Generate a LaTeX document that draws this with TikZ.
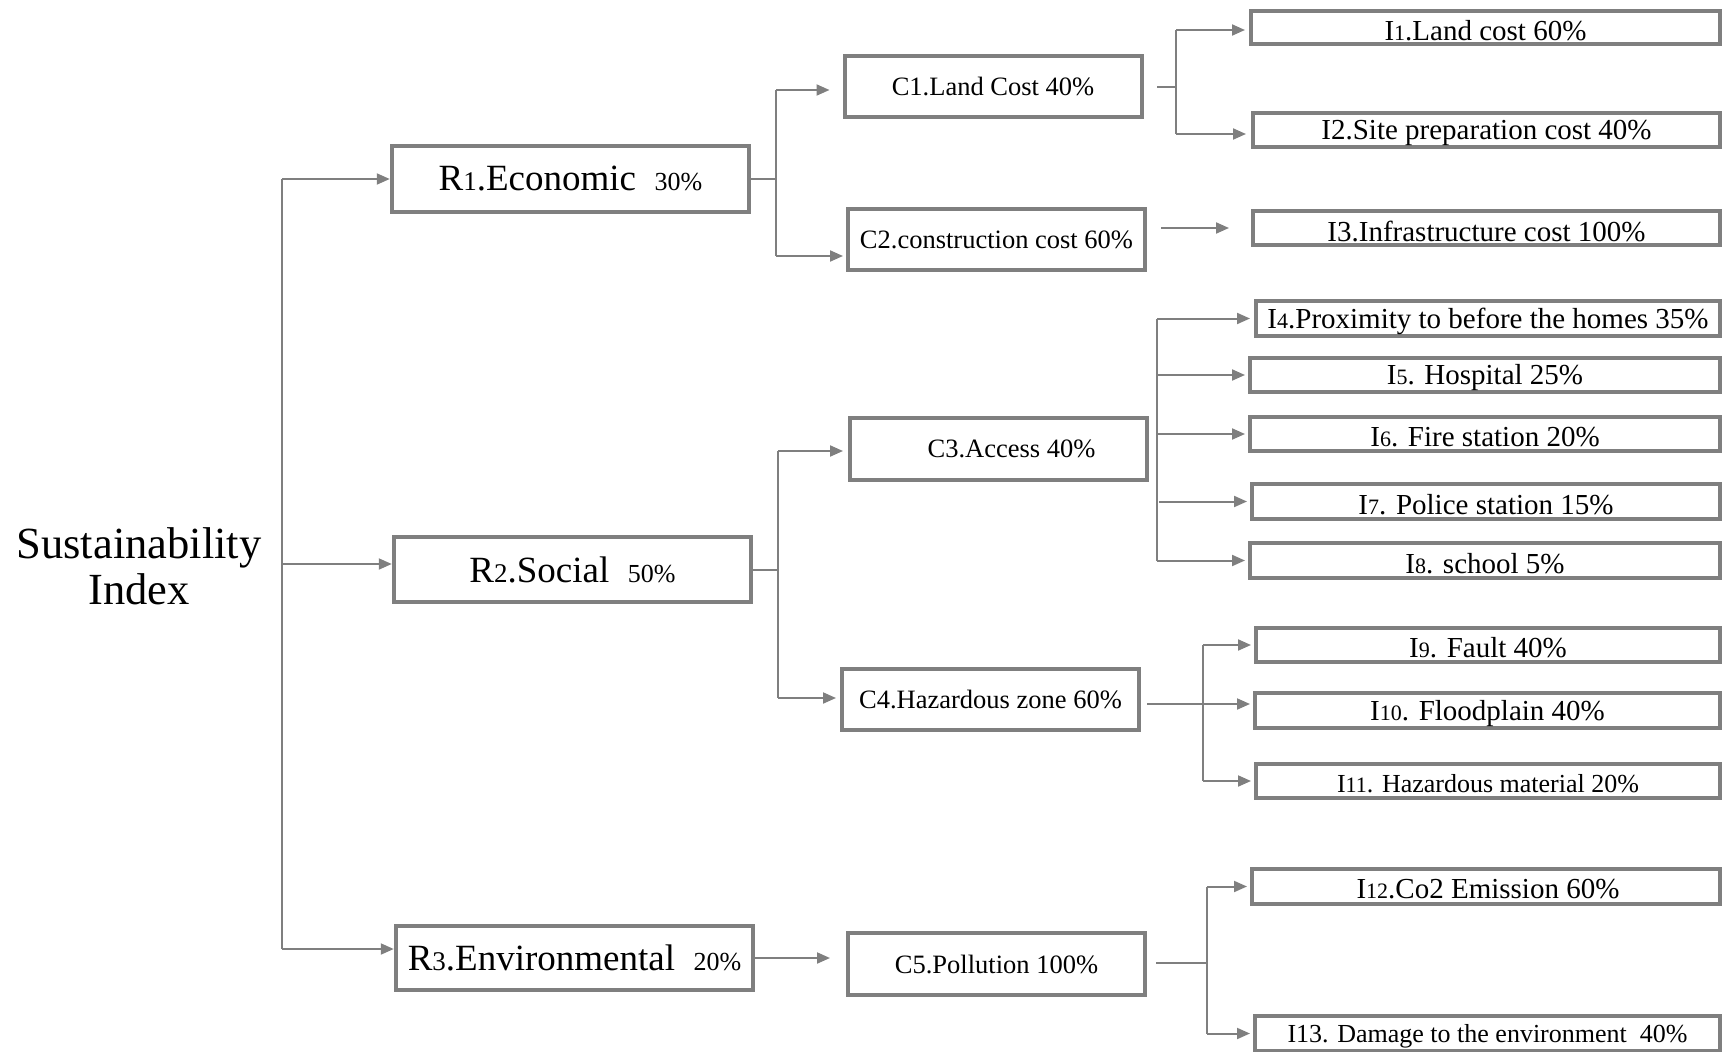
\documentclass[tikz,border=0pt]{standalone}
\usepackage{fontspec}
\setmainfont{Liberation Serif}
\usetikzlibrary{arrows.meta,calc}
\definecolor{lc}{HTML}{7F7F7F}
\newcommand\fszS{\fontsize{44.5}{46}\selectfont}
\newcommand\fszR{\fontsize{37}{42}\selectfont}
\newcommand\fszRp{\fontsize{26}{30}\selectfont}
\newcommand\fszC{\fontsize{26.5}{30}\selectfont}
\newcommand\fszI{\fontsize{29}{32}\selectfont}
\newcommand\fszIs{\fontsize{26}{30}\selectfont}
\newcommand\smR[1]{{\fontsize{27}{30}\selectfont #1}}
\newcommand\smI[1]{{\fontsize{22}{26}\selectfont #1}}
\newcommand\lo[1]{\raisebox{-3pt}[\height][\depth]{#1}}
\begin{document}
\begin{tikzpicture}[x=1pt,y=-1pt,
  rbox/.style={draw=lc, line width=4.5pt, fill=white, inner sep=0pt, anchor=center, font=\fszR},
  cbox/.style={draw=lc, line width=4pt, fill=white, inner sep=0pt, anchor=center, font=\fszC, minimum width=297pt, minimum height=61pt},
  ibox/.style={draw=lc, line width=4pt, fill=white, inner sep=0pt, anchor=center, font=\fszI},
  conn/.style={draw=lc, line width=2pt},
  arr/.style={conn, -{Triangle[length=13pt,width=11pt]}}]
\useasboundingbox (0,0) rectangle (1722,1052);

% root
\node[align=center, font=\fszS, inner sep=0pt] (si) at (139,566) {Sustainability\\Index};

% R level
\node[rbox, minimum width=357pt, minimum height=66pt] (r1) at (570.5,179) {R\smR{1}.Economic~ {\fszRp 30\%}};
\node[rbox, minimum width=357pt, minimum height=65pt] (r2) at (572.5,569.5) {R\smR{2}.Social~ {\fszRp 50\%}};
\node[rbox, minimum width=357pt, minimum height=64pt] (r3) at (574.5,958) {R\smR{3}.Environmental~ {\fszRp 20\%}};

% C level
\node[cbox] (c1) at (993,86.5) {C1.Land Cost 40\%};
\node[cbox] (c2) at (996.5,239.5) {C2.construction cost 60\%};
\node[cbox, minimum height=62pt] (c3) at (998.5,449) {\hspace*{26pt}C3.Access 40\%};
\node[cbox] (c4) at (990.5,699.5) {C4.Hazardous zone 60\%};
\node[cbox, minimum height=62pt] (c5) at (996.5,964) {C5.Pollution 100\%};

% I level
\node[ibox, minimum width=469pt, minimum height=33pt] (i1) at (1485.5,27.5) {\lo{I\smI{1}.Land cost 60\%}};
\node[ibox, minimum width=467pt, minimum height=34pt] (i2) at (1486.5,130) {\lo{I2.Site preparation cost 40\%}};
\node[ibox, minimum width=467pt, minimum height=34pt] (i3) at (1486.5,228) {\lo{I3.Infrastructure cost 100\%}};
\node[ibox, minimum width=464pt, minimum height=35pt] (i4) at (1488,318.5) {\lo{I\smI{4}.Proximity to before the homes 35\%}};
\node[ibox, minimum width=470pt, minimum height=34pt] (i5) at (1485,375) {\lo{I\smI{5}. Hospital 25\%}};
\node[ibox, minimum width=470pt, minimum height=34pt] (i6) at (1485,434) {\lo{I\smI{6}. Fire station 20\%}};
\node[ibox, minimum width=468pt, minimum height=35pt] (i7) at (1486,501.5) {\lo{I\smI{7}. Police station 15\%}};
\node[ibox, minimum width=470pt, minimum height=35pt] (i8) at (1485,560.5) {\lo{I\smI{8}. school 5\%}};
\node[ibox, minimum width=464pt, minimum height=34pt] (i9) at (1488,645) {\lo{I\smI{9}. Fault 40\%}};
\node[ibox, minimum width=465pt, minimum height=35pt] (i10) at (1487.5,710.5) {\lo{I\smI{10}. Floodplain 40\%}};
\node[ibox, minimum width=464pt, minimum height=34pt, font=\fszIs] (i11) at (1488,781) {\lo{I\smI{11}. Hazardous material 20\%}};
\node[ibox, minimum width=468pt, minimum height=35pt] (i12) at (1486,886.5) {\lo{\hspace*{4pt}I\smI{12}.Co2 Emission 60\%}};
\node[ibox, minimum width=465pt, minimum height=35pt, font=\fszIs] (i13) at (1487.5,1033.5) {\lo{I13. Damage to the environment\ \ 40\%}};

% root trunk
\coordinate (t1) at (282,179);
\coordinate (t2) at (282,564);
\coordinate (t3) at (282,949);
\draw[conn] (t1) -- (t3);
\draw[arr] (t1) -- (r1.west |- t1);
\draw[arr] (t2) -- (r2.west |- t2);
\draw[arr] (t3) -- (r3.west |- t3);

% R1 -> C1, C2
\coordinate (b1) at (776,179);
\coordinate (b1t) at (776,90);
\coordinate (b1b) at (776,256);
\draw[conn] (r1.east) -- (b1);
\draw[conn] (b1t) -- (b1b);
\draw[arr] (b1t) -- ([xshift=-13pt]c1.west |- b1t);
\draw[arr] (b1b) -- ([xshift=-3pt]c2.west |- b1b);

% C1 -> I1, I2
\coordinate (s1) at (1157,86.5);
\coordinate (b2) at (1176,86.5);
\coordinate (b2t) at (1176,30);
\coordinate (b2b) at (1176,134);
\draw[conn] (s1) -- (b2);
\draw[conn] (b2t) -- (b2b);
\draw[arr] (b2t) -- ([xshift=-4pt]i1.west |- b2t);
\draw[arr] (b2b) -- ([xshift=-5pt]i2.west |- b2b);

% C2 -> I3
\coordinate (s2) at (1161,228);
\draw[arr] (s2) -- ([xshift=-22pt]i3.west);

% R2 -> C3, C4
\coordinate (b3) at (778,569.5);
\coordinate (b3t) at (778,451);
\coordinate (b3b) at (778,698);
\draw[conn] (r2.east) -- (b3);
\draw[conn] (b3t) -- (b3b);
\draw[arr] (b3t) -- ([xshift=-5pt]c3.west |- b3t);
\draw[arr] (b3b) -- ([xshift=-4pt]c4.west |- b3b);

% C3 -> I4..I8
\coordinate (b4t) at (1157,318.5);
\coordinate (b4b) at (1157,560.5);
\draw[conn] (b4t) -- (b4b);
\draw[arr] (b4t) -- ([xshift=-4pt]i4.west);
\draw[arr] (b4t |- i5) -- ([xshift=-3pt]i5.west);
\draw[arr] (b4t |- i6) -- ([xshift=-3pt]i6.west);
\draw[arr] ([xshift=2pt]b4t |- i7) -- ([xshift=-3pt]i7.west);
\draw[arr] (b4b) -- ([xshift=-3pt]i8.west);

% C4 -> I9..I11
\coordinate (s4) at (1147,704);
\coordinate (b5t) at (1203,645);
\coordinate (b5b) at (1203,781);
\draw[conn] (b5t) -- (b5b);
\draw[arr] (s4) -- ([xshift=-3pt]i10.west |- s4);
\draw[arr] (b5t) -- ([xshift=-3pt]i9.west);
\draw[arr] (b5b) -- ([xshift=-3pt]i11.west);

% R3 -> C5
\draw[arr] (r3.east) -- ([xshift=-16pt]c5.west |- r3.east);

% C5 -> I12, I13
\coordinate (s5) at (1156,963);
\coordinate (b6) at (1207,963);
\coordinate (b6t) at (1207,886.5);
\coordinate (b6b) at (1207,1033.5);
\draw[conn] (s5) -- (b6);
\draw[conn] (b6t) -- (b6b);
\draw[arr] (b6t) -- ([xshift=-3pt]i12.west);
\draw[arr] (b6b) -- ([xshift=-3pt]i13.west);
\end{tikzpicture}
\end{document}
